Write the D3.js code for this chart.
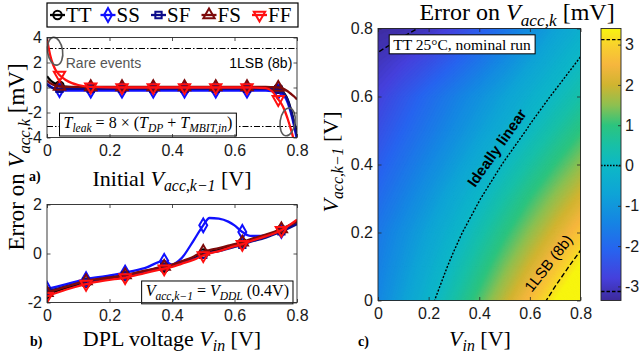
<!DOCTYPE html>
<html>
<head>
<meta charset="utf-8">
<script src="https://cdn.jsdelivr.net/npm/d3@7"></script>
<style>
  body { margin: 0; background: #fff; }
  svg { display: block; }
</style>
</head>
<body>
<svg id="fig" width="640" height="355"></svg>
<script>
// ---- data ----
const corners = ["TT", "SS", "SF", "FS", "FF"];

// a) error vs initial Vacc,k-1 (mV)
const vaccA = [0, 0.005, 0.01, 0.02, 0.03, 0.04, 0.06, 0.08, 0.1, 0.14, 0.24, 0.34, 0.44, 0.54, 0.64, 0.70, 0.72, 0.74, 0.75, 0.76, 0.77, 0.78, 0.79, 0.80];
const aTT = [0.9, 0.75, 0.6, 0.4, 0.25, 0.15, 0.06, 0.02, 0, 0, 0, 0, 0, 0, 0, -0.03, -0.06, -0.1, -0.25, -0.5, -0.95, -1.7, -2.7, -3.6];
const aSS = [0.3, 0.2, 0.1, -0.05, -0.15, -0.2, -0.24, -0.25, -0.25, -0.25, -0.25, -0.25, -0.25, -0.25, -0.25, -0.25, -0.28, -0.35, -0.45, -0.7, -1.2, -2.0, -3.0, -4.2];
const aSF = [0.25, 0.15, 0.05, -0.05, -0.08, -0.1, -0.1, -0.1, -0.1, -0.1, -0.1, -0.1, -0.1, -0.1, -0.1, -0.1, -0.12, -0.15, -0.3, -0.55, -1.0, -1.8, -2.8, -3.9];
const aFS = [0.55, 0.45, 0.35, 0.22, 0.12, 0.08, 0.05, 0.05, 0.05, 0.05, 0.05, 0.05, 0.05, 0.05, 0.05, 0.05, 0.03, 0.0, -0.05, -0.15, -0.3, -0.5, -0.7, -0.95];
const aFF = [3.9, 3.2, 2.6, 1.8, 1.3, 1.0, 0.6, 0.35, 0.2, 0.05, 0, 0, 0, 0, 0, -0.05, -0.3, -0.95, -1.3, -1.8, -2.5, -3.3, -4.2, -5.0];
const markIdxA = [5, 9, 10, 11, 12, 13, 14, 17];

// b) error vs DPL voltage Vin (mV), Vacc = 0.4 V
const vinB = [0, 0.0625, 0.125, 0.1875, 0.25, 0.3125, 0.375, 0.4, 0.43, 0.47, 0.5, 0.52, 0.55, 0.58, 0.6, 0.625, 0.65, 0.6875, 0.7, 0.75, 0.8];
const bTT = [-1.65, -1.4, -1.2, -1.05, -0.93, -0.76, -0.58, -0.5, -0.38, -0.2, 0.0, 0.07, 0.15, 0.27, 0.35, 0.43, 0.55, 0.68, 0.73, 0.97, 1.32];
const bSS = [-1.45, -1.25, -1.05, -0.92, -0.78, -0.6, -0.3, -0.45, -0.2, 0.55, 1.15, 1.45, 1.42, 1.3, 1.15, 0.88, 0.72, 0.72, 0.75, 0.92, 1.25];
const bSF = [-1.55, -1.33, -1.15, -1.0, -0.88, -0.72, -0.55, -0.48, -0.38, -0.22, -0.05, 0.02, 0.1, 0.2, 0.27, 0.35, 0.47, 0.6, 0.65, 0.9, 1.2];
const bFS = [-1.6, -1.35, -1.12, -1.0, -0.88, -0.7, -0.53, -0.45, -0.32, -0.12, 0.08, 0.14, 0.22, 0.32, 0.38, 0.46, 0.58, 0.72, 0.77, 1.0, 1.3];
const bFF = [-1.75, -1.47, -1.25, -1.1, -0.98, -0.8, -0.62, -0.55, -0.42, -0.25, -0.08, 0.0, 0.1, 0.22, 0.3, 0.38, 0.5, 0.65, 0.7, 0.95, 1.38];
const markIdxB = [0, 2, 4, 6, 10, 15, 19];

// c) error map, rows = Vacc,k-1 0..0.8, columns = Vin 0..0.8 (mV)
const heatVin = [0, 0.1, 0.2, 0.3, 0.4, 0.5, 0.6, 0.7, 0.8];
const heatVacc = [0, 0.1, 0.2, 0.3, 0.4, 0.5, 0.6, 0.7, 0.8];
const heatErr = [
  [-1.35, -0.77, -0.15, 0.49, 1.17, 1.88, 2.62, 3.40, 4.20],
  [-1.50, -0.98, -0.43, 0.15, 0.75, 1.39, 2.05, 2.74, 3.45],
  [-1.65, -1.18, -0.69, -0.18, 0.36, 0.93, 1.51, 2.12, 2.76],
  [-1.93, -1.48, -1.01, -0.52, -0.03, 0.49, 1.02, 1.56, 2.11],
  [-2.21, -1.78, -1.34, -0.89, -0.42, 0.05, 0.53, 1.02, 1.52],
  [-2.49, -2.08, -1.67, -1.24, -0.81, -0.38, 0.07, 0.52, 0.98],
  [-2.77, -2.36, -1.95, -1.54, -1.13, -0.73, -0.32, 0.08, 0.48],
  [-3.05, -2.82, -2.50, -2.12, -1.69, -1.23, -0.77, -0.34, 0.07],
  [-3.30, -3.22, -3.05, -2.72, -2.25, -1.75, -1.22, -0.75, -0.35]
];
const lsb = 3.125;          // 1 LSB of 8 bits over 0.8 V, mV
const cbTicks = [-3, -2, -1, 0, 1, 2, 3];
const axisTicks = [0, 0.2, 0.4, 0.6, 0.8];

// ---- style ----
const colors = { TT: "#000000", SS: "#1010ff", SF: "#0c0c8a", FS: "#7d0a0a", FF: "#ff1010" };
const symbols = { TT: d3.symbolCircle, SS: d3.symbolDiamond, SF: d3.symbolSquare, FS: d3.symbolTriangle, FF: d3.symbolTriangle };
const symSize = { TT: 55, SS: 55, SF: 40, FS: 55, FF: 55 };
const parula = [[-3.35, "#3d2a9a"], [-2.8, "#4540dc"], [-2.1, "#2763ef"], [-1.4, "#1585e3"], [-0.7, "#0ea4d6"],
  [0, "#0db8c6"], [0.5, "#18c0a6"], [1.0, "#2cc47e"], [1.5, "#8ec050"], [2.0, "#d0b430"],
  [2.5, "#f6b63e"], [3.0, "#f8d22c"], [3.4, "#f8f50f"]];
const serif = "'Liberation Serif', 'Times New Roman', serif";
const sans = "'Liberation Sans', Arial, sans-serif";
const axisCol = "#262626";

const seriesA = { TT: aTT, SS: aSS, SF: aSF, FS: aFS, FF: aFF };
const seriesB = { TT: bTT, SS: bSS, SF: bSF, FS: bFS, FF: bFF };

const svg = d3.select("#fig");
svg.append("rect").attr("width", 640).attr("height", 355).attr("fill", "#fff");

const xA = d3.scaleLinear([0, 0.8], [47, 297]);
const yA = d3.scaleLinear([-4, 4], [137.5, 37.5]);
const xB = d3.scaleLinear([0, 0.8], [47, 297]);
const yB = d3.scaleLinear([-2, 2], [302.5, 204.5]);
const xC = d3.scaleLinear([0, 0.8], [378, 580.5]);
const yC = d3.scaleLinear([0, 0.8], [300.5, 28.5]);
const yCb = d3.scaleLinear([-3.35, 3.4], [300.5, 28.5]);
const color = d3.scaleLinear(parula.map(d => d[0]), parula.map(d => d[1])).clamp(true);

// text with italic / subscript parts
function rich(text, parts, fs) {
  let base = 0;
  for (const [s, st] of parts) {
    const t = text.append("tspan").text(s);
    const lvl = st === "sub" ? fs * 0.24 : 0;
    if (lvl !== base) { t.attr("dy", lvl - base); base = lvl; }
    if (st === "it" || st === "sub") t.attr("font-style", "italic");
    if (st === "sub") t.attr("font-size", fs * 0.72);
  }
  return text;
}

function label(x, y, parts, fs, opts = {}) {
  const t = svg.append("text")
    .attr("transform", `translate(${x},${y})` + (opts.rotate ? ` rotate(${opts.rotate})` : ""))
    .attr("text-anchor", opts.anchor || "middle")
    .attr("font-family", opts.family || serif)
    .attr("font-size", fs)
    .attr("font-weight", opts.weight || "normal")
    .attr("fill", opts.fill || "#000");
  return rich(t, parts, fs);
}

function boxed(textSel, pad) {
  const b = textSel.node().getBBox();
  const tr = textSel.attr("transform");
  svg.insert("rect", () => textSel.node())
    .attr("transform", tr)
    .attr("x", b.x - pad[0]).attr("y", b.y - pad[1])
    .attr("width", b.width + 2 * pad[0]).attr("height", b.height + 2 * pad[1])
    .attr("fill", "#fff").attr("stroke", "#000").attr("stroke-width", 1);
}

function frame(x, y, ticksX, ticksY) {
  const g = svg.append("g").attr("font-family", sans);
  const [x0, x1] = x.range(), y1 = y.range()[1];
  const fmt = d => String(d);
  const style = s => {
    s.select(".domain").remove();
    s.selectAll("line").attr("stroke", axisCol).attr("stroke-width", 0.8);
    s.selectAll("text").attr("font-size", 16).attr("fill", "#1a1a1a").attr("font-family", sans);
  };
  g.append("g").attr("transform", `translate(0,${y.range()[0]})`)
    .call(d3.axisBottom(x).tickValues(ticksX).tickFormat(fmt).tickSize(-3.5).tickPadding(7)).call(style);
  g.append("g").attr("transform", `translate(${x0},0)`)
    .call(d3.axisLeft(y).tickValues(ticksY).tickFormat(fmt).tickSize(-3.5).tickPadding(5)).call(style);
  g.append("g").attr("transform", `translate(0,${y1})`)
    .call(d3.axisTop(x).tickValues(ticksX).tickFormat("").tickSize(-3.5)).call(style);
  g.append("g").attr("transform", `translate(${x1},0)`)
    .call(d3.axisRight(y).tickValues(ticksY).tickFormat("").tickSize(-3.5)).call(style);
  g.append("rect").attr("x", x0).attr("y", y1).attr("width", x1 - x0).attr("height", y.range()[0] - y1)
    .attr("fill", "none").attr("stroke", axisCol).attr("stroke-width", 0.9);
}

function clip(id, x, y) {
  svg.append("clipPath").attr("id", id).append("rect")
    .attr("x", x.range()[0]).attr("y", y.range()[1])
    .attr("width", x.range()[1] - x.range()[0]).attr("height", y.range()[0] - y.range()[1]);
}

function drawMarker(g, c, px, py, sw) {
  g.append("path")
    .attr("d", d3.symbol(symbols[c], symSize[c])())
    .attr("transform", `translate(${px},${py})` + (c === "FF" ? " rotate(180)" : ""))
    .attr("fill", "none").attr("stroke", colors[c]).attr("stroke-width", sw);
}

function linePanel(id, xs, series, marks, x, y) {
  clip(id, x, y);
  const g = svg.append("g").attr("clip-path", `url(#${id})`);
  const line = d3.line().x(d => x(d[0])).y(d => y(d[1])).curve(d3.curveMonotoneX);
  for (const c of corners) {
    const pts = xs.map((v, i) => [v, series[c][i]]);
    g.append("path").attr("d", line(pts)).attr("fill", "none")
      .attr("stroke", colors[c]).attr("stroke-width", 2.3).attr("stroke-linejoin", "round");
    for (const i of marks) drawMarker(g, c, x(xs[i]), y(series[c][i]), 2);
  }
  return g;
}

// ---------- panel a ----------
{
  clip("clipA0", xA, yA);
  const ga = svg.append("g").attr("clip-path", "url(#clipA0)");
  for (const v of [lsb, -lsb]) {
    ga.append("line").attr("x1", xA(0)).attr("x2", xA(0.8)).attr("y1", yA(v)).attr("y2", yA(v))
      .attr("stroke", "#000").attr("stroke-width", 1.1).attr("stroke-dasharray", "6,2,1.5,2");
  }
}
linePanel("clipA", vaccA, seriesA, markIdxA, xA, yA);
// rare-event rings
const rings = [[0.026, 2.9, -8], [0.77, -2.75, 8]];
for (const [cx, cy, rot] of rings) {
  svg.append("ellipse").attr("transform", `translate(${xA(cx)},${yA(cy)}) rotate(${rot})`)
    .attr("rx", 7.5).attr("ry", 14).attr("fill", "none").attr("stroke", "#5a5a5a").attr("stroke-width", 1.6);
}
label(xA(0.06), yA(2.0) + 5, [["Rare events"]], 14, { anchor: "start", family: sans, fill: "#555" });
label(xA(0.785), yA(2.0) + 5, [["1LSB (8b)"]], 14, { anchor: "end", family: sans });
const tl = label(xA(0.323), yA(-2.85) + 5, [["T", "it"], ["leak", "sub"], [" = 8 × ("], ["T", "it"], ["DP", "sub"], [" + "], ["T", "it"], ["MBIT,in", "sub"], [")"]], 16);
boxed(tl, [4, 1]);
frame(xA, yA, axisTicks, [-4, -2, 0, 2, 4]);

// legend
{
  const lg = svg.append("g");
  lg.append("rect").attr("x", 47).attr("y", 3).attr("width", 251).attr("height", 24)
    .attr("fill", "#fff").attr("stroke", "#000").attr("stroke-width", 1.2);
  corners.forEach((c, i) => {
    const lx = 50 + i * 50.5, ly = 15;
    lg.append("line").attr("x1", lx).attr("x2", lx + 15).attr("y1", ly).attr("y2", ly)
      .attr("stroke", colors[c]).attr("stroke-width", 2.3);
    drawMarker(lg, c, lx + 7.5, ly, 2);
    lg.append("text").attr("x", lx + 16).attr("y", ly + 7).attr("font-family", serif)
      .attr("font-size", 21).text(c);
  });
}

// ---------- panel b ----------
linePanel("clipB", vinB, seriesB, markIdxB, xB, yB);
const tb = label(xB(0.545), yB(-1.53) + 5, [["V", "it"], ["acc,k−1", "sub"], [" = "], ["V", "it"], ["DDL", "sub"], [" (0.4V)"]], 16);
boxed(tb, [4, 1]);
frame(xB, yB, axisTicks, [-2, 0, 2]);

// ---------- panel c ----------
clip("clipC", xC, yC);
{
  const gc = svg.append("g").attr("clip-path", "url(#clipC)");
  const n = heatVin.length, m = heatVacc.length;
  const gx = d3.scaleLinear([0.5, n - 0.5], [xC(heatVin[0]), xC(heatVin[n - 1])]);
  const gy = d3.scaleLinear([0.5, m - 0.5], [yC(heatVacc[0]), yC(heatVacc[m - 1])]);
  const path = d3.geoPath(d3.geoTransform({ point(px, py) { this.stream.point(gx(px), gy(py)); } }));
  const values = heatErr.flat();
  const step = 0.05;
  const bands = d3.contours().size([n, m]).thresholds(d3.range(-3.6, 4.4, step))(values);
  gc.selectAll("path.band").data(bands).join("path").attr("class", "band")
    .attr("d", path).attr("fill", d => color(d.value + step / 2))
    .attr("stroke", d => color(d.value + step / 2)).attr("stroke-width", 0.4);
  const iso = d3.contours().size([n, m]).thresholds([-lsb, 0, lsb])(values);
  gc.selectAll("path.iso").data(iso).join("path").attr("class", "iso")
    .attr("d", path).attr("fill", "none").attr("stroke", "#000").attr("stroke-width", 1.4)
    .attr("stroke-dasharray", d => d.value === 0 ? "2,1.6" : "5,2.5");
}
label(xC(0.486), yC(0.44), [["Ideally linear"]], 15, { family: sans, weight: "bold", rotate: -55 });
label(xC(0.69), yC(0.1), [["1LSB (8b)"]], 15, { family: sans, rotate: -52 });
const tc = label(xC(0.332), yC(0.752) + 5, [["TT 25°C, nominal run"]], 15.5);
boxed(tc, [4, 1]);
frame(xC, yC, axisTicks, axisTicks);

// colorbar
{
  const defs = svg.append("defs");
  const grad = defs.append("linearGradient").attr("id", "cbGrad").attr("x1", 0).attr("y1", 1).attr("x2", 0).attr("y2", 0);
  const [lo, hi] = yCb.domain();
  for (const [v, col] of parula) grad.append("stop").attr("offset", (v - lo) / (hi - lo)).attr("stop-color", col);
  const cx0 = 601, cx1 = 621;
  svg.append("rect").attr("x", cx0).attr("y", yCb(hi)).attr("width", cx1 - cx0).attr("height", yCb(lo) - yCb(hi))
    .attr("fill", "url(#cbGrad)");
  for (const v of [-lsb, 0, lsb]) {
    svg.append("line").attr("x1", cx0).attr("x2", cx1).attr("y1", yCb(v)).attr("y2", yCb(v))
      .attr("stroke", "#000").attr("stroke-width", 1.4).attr("stroke-dasharray", v === 0 ? "1.6,1.4" : "3.5,2");
  }
  const ax = svg.append("g").attr("transform", `translate(${cx1},0)`)
    .call(d3.axisRight(yCb).tickValues(cbTicks).tickFormat(d => String(d)).tickSize(-3).tickPadding(4));
  ax.select(".domain").remove();
  ax.selectAll("line").attr("stroke", axisCol).attr("stroke-width", 0.8);
  ax.selectAll("text").attr("font-size", 16).attr("font-family", sans).attr("fill", "#1a1a1a");
  svg.append("rect").attr("x", cx0).attr("y", yCb(hi)).attr("width", cx1 - cx0).attr("height", yCb(lo) - yCb(hi))
    .attr("fill", "none").attr("stroke", axisCol).attr("stroke-width", 0.9);
}

// ---------- axis titles ----------
label(24, 157, [["Error on "], ["V", "it"], ["acc,k", "sub"], [" [mV]"]], 23, { rotate: -90 });
label(172, 186, [["Initial "], ["V", "it"], ["acc,k−1", "sub"], [" [V]"]], 22);
label(172, 346, [["DPL voltage "], ["V", "it"], ["in", "sub"], [" [V]"]], 22);
label(480, 346, [["V", "it"], ["in", "sub"], [" [V]"]], 22);
label(338, 162, [["V", "it"], ["acc,k−1", "sub"], [" [V]"]], 22, { rotate: -90 });
label(517, 20, [["Error on "], ["V", "it"], ["acc,k", "sub"], [" [mV]"]], 24);
label(29, 181, [["a)"]], 14, { anchor: "start", weight: "bold" });
label(30, 346, [["b)"]], 14, { anchor: "start", weight: "bold" });
label(358, 346, [["c)"]], 14, { anchor: "start", weight: "bold" });
</script>
</body>
</html>
